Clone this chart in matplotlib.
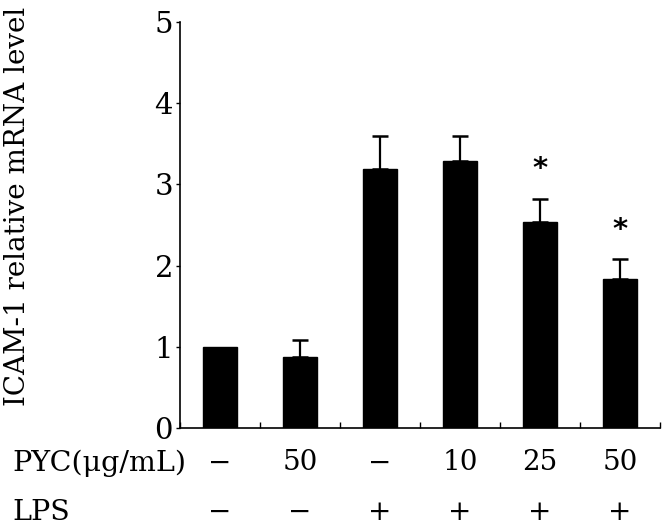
import matplotlib
matplotlib.use("Agg")
import matplotlib.pyplot as plt

# data
pyc_labels = ["\u2212", "50", "\u2212", "10", "25", "50"]
lps_labels = ["\u2212", "\u2212", "+", "+", "+", "+"]
means = [1.0, 0.88, 3.19, 3.29, 2.54, 1.84]
errors = [0.0, 0.20, 0.41, 0.31, 0.28, 0.24]
star_y = [None, None, None, None, 3.19, 2.44]

plt.rcParams['font.family'] = ['DejaVu Serif']

fig = plt.figure(figsize=(6.66, 5.27), dpi=100)
ax = fig.add_axes([180 / 666, 99 / 527, 480 / 666, 406 / 527])

x = list(range(len(means)))
ax.bar(x, means, width=0.42, color='black', edgecolor='black', zorder=2)
for xi, m, e in zip(x, means, errors):
    if e > 0:
        ax.errorbar(xi, m, yerr=[[0], [e]], fmt='none', ecolor='black',
                    elinewidth=1.6, capsize=5.5, capthick=1.8, zorder=1)
for xi, s in zip(x, star_y):
    if s is not None:
        ax.text(xi, s, "*", ha='center', va='center', fontsize=21,
                fontweight='bold', fontfamily='DejaVu Sans')

ax.set_xlim(-0.5, 5.5)
ax.set_ylim(0, 5)
ax.spines['top'].set_visible(False)
ax.spines['right'].set_visible(False)
ax.spines['left'].set_linewidth(1.2)
ax.spines['bottom'].set_linewidth(1.2)

ax.set_yticks([0, 1, 2, 3, 4, 5])
ax.tick_params(axis='y', direction='out', length=3, width=1, pad=2,
               labelsize=21)
ax.set_xticks([i - 0.5 for i in range(7)])
ax.set_xticklabels([])
ax.tick_params(axis='x', direction='in', length=4, width=1)

trans = ax.get_xaxis_transform()
for xi, p, l in zip(x, pyc_labels, lps_labels):
    ax.text(xi, -0.086, p, transform=trans, ha='center', va='center', fontsize=20)
    ax.text(xi, -0.207, l, transform=trans, ha='center', va='center', fontsize=20)

fig.text(12 / 666, 1 - 463 / 527, "PYC(\u03bcg/mL)", ha='left', va='center', fontsize=20.5)
fig.text(12 / 666, 1 - 512 / 527, "LPS", ha='left', va='center', fontsize=20.5)
fig.text(18 / 666, 1 - 206 / 527, "ICAM-1 relative mRNA level", rotation=90,
         ha='center', va='center', fontsize=20)

fig.savefig("out.png", dpi=100)
